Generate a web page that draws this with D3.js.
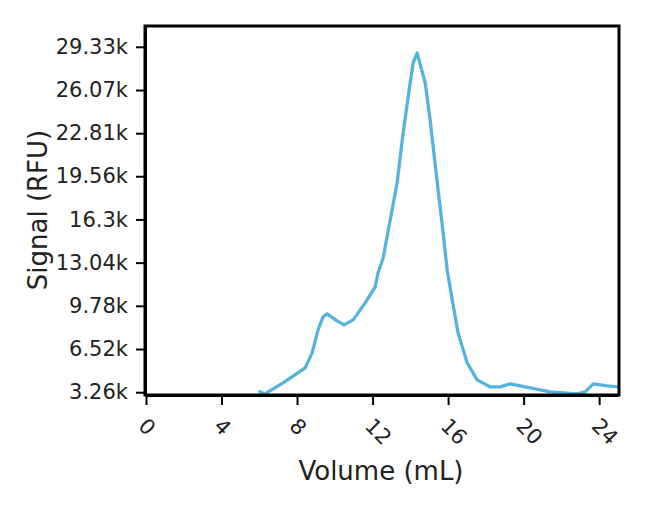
<!DOCTYPE html>
<html>
<head>
<meta charset="utf-8">
<script src="https://cdn.jsdelivr.net/npm/d3@7"></script>
<style>
  html, body { margin: 0; padding: 0; background: #fff; }
  svg { display: block; font-family: "DejaVu Sans", Verdana, sans-serif; }
</style>
</head>
<body>
<svg id="chart" width="658" height="505"></svg>
<script>
// ---- data ----
const volume = [6.04, 6.3, 7.26, 8.43, 8.8, 9.11, 9.38, 9.59, 10.12, 10.49, 10.97, 11.61, 12.14, 12.29, 12.56,
  13.3, 13.62, 13.99, 14.15, 14.36, 14.79, 15.05, 15.47, 15.74, 15.95, 16.22, 16.53, 17.01, 17.54,
  18.23, 18.76, 19.29, 20.35, 21.41, 22.84, 23.26, 23.69, 24.43, 25.0];
const signal = [3300, 3130, 3960, 5090, 6230, 7960, 8940, 9170, 8640, 8340, 8720, 10000, 11210, 12260, 13390,
  19050, 22830, 26600, 28110, 28860, 26600, 23810, 18530, 15280, 12490, 10230, 7740, 5470, 4190,
  3660, 3660, 3890, 3580, 3280, 3130, 3280, 3890, 3740, 3660];
const xTicks = [0, 4, 8, 12, 16, 20, 24];
const yTicks = [3260, 6520, 9780, 13040, 16300, 19560, 22810, 26070, 29330];
const yTickLabels = ["3.26k", "6.52k", "9.78k", "13.04k", "16.3k", "19.56k", "22.81k", "26.07k", "29.33k"];
const xDomain = [0, 25];
const yDomain = [3050, 30900];
const xTitle = "Volume (mL)";
const yTitle = "Signal (RFU)";

// ---- layout ----
const mLeft = 146, mRight = 618, mTop = 26, mBottom = 395;
const lineColor = "#55b3de";
const fontFam = "'DejaVu Sans', Verdana, sans-serif";

const svg = d3.select("#chart");
const x = d3.scaleLinear().domain(xDomain).range([mLeft, mRight]);
const y = d3.scaleLinear().domain(yDomain).range([mBottom, mTop]);

const points = volume.map((v, i) => [v, signal[i]]);

// line
svg.append("path")
  .datum(points)
  .attr("fill", "none")
  .attr("stroke", lineColor)
  .attr("stroke-width", 3.3)
  .attr("stroke-linejoin", "round")
  .attr("stroke-linecap", "round")
  .attr("d", d3.line().x(d => x(d[0])).y(d => y(d[1])));

// frame
svg.append("rect")
  .attr("x", mLeft - 1).attr("y", mTop)
  .attr("width", mRight - mLeft + 2).attr("height", mBottom - mTop)
  .attr("fill", "none").attr("stroke", "#000").attr("stroke-width", 3);

// x axis
const gx = svg.append("g")
  .attr("transform", `translate(0,${mBottom})`)
  .call(d3.axisBottom(x).tickValues(xTicks).tickSize(10).tickSizeOuter(0).tickFormat(d3.format("d")))
  .attr("font-family", fontFam).attr("font-size", 21);
gx.select(".domain").attr("stroke-width", 3);
gx.selectAll(".tick line").attr("stroke-width", 2);
gx.selectAll(".tick text")
  .attr("fill", "#222")
  .attr("x", -4).attr("y", 27).attr("dy", "0.35em")
  .attr("transform", "rotate(45,-4,27)")
  .style("text-anchor", "start");

// y axis
const gy = svg.append("g")
  .attr("transform", `translate(${mLeft - 1},0)`)
  .call(d3.axisLeft(y).tickValues(yTicks).tickSize(9).tickPadding(8).tickSizeOuter(0)
    .tickFormat((d, i) => yTickLabels[i]))
  .attr("font-family", fontFam).attr("font-size", 21);
gy.select(".domain").attr("stroke-width", 3);
gy.selectAll(".tick line").attr("stroke-width", 2);
gy.selectAll(".tick text").attr("fill", "#222");

// titles
svg.append("text")
  .attr("x", (mLeft + mRight) / 2 - 1).attr("y", 480)
  .attr("text-anchor", "middle")
  .attr("font-family", fontFam)
  .attr("font-size", 26).attr("fill", "#222")
  .text(xTitle);

svg.append("text")
  .attr("transform", `translate(47,${210}) rotate(-90)`)
  .attr("text-anchor", "middle")
  .attr("font-family", fontFam)
  .attr("font-size", 26).attr("fill", "#222")
  .text(yTitle);
</script>
</body>
</html>
